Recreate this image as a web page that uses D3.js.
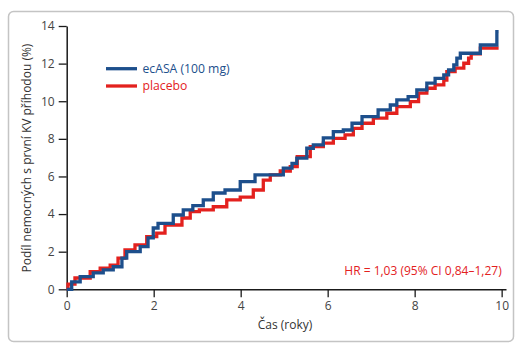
<!DOCTYPE html>
<html><head><meta charset="utf-8">
<script src="https://cdn.jsdelivr.net/npm/d3@7"></script>
<style>body{margin:0;background:#fff}svg{display:block}text{font-family:"Open Sans","Noto Sans",sans-serif}</style>
</head><body>
<script>
// Time (years) and cumulative incidence (%) step points
const ecasaTime = [0,0.115,0.31,0.61,0.84,1.07,1.27,1.38,1.69,1.87,1.99,2.10,2.45,2.68,2.90,3.14,3.37,3.64,3.99,4.33,4.98,5.18,5.29,5.52,5.67,5.90,6.13,6.36,6.56,6.79,7.16,7.44,7.59,7.85,8.05,8.28,8.47,8.67,8.78,8.90,8.97,9.05,9.51,9.89,9.93];
const ecasaPct  = [0,0.40,0.67,0.87,1.03,1.20,1.66,2.00,2.27,2.73,3.26,3.51,3.95,4.22,4.45,4.75,5.12,5.28,5.72,6.08,6.44,6.70,6.98,7.50,7.68,8.05,8.38,8.47,8.83,9.18,9.54,9.80,10.07,10.24,10.60,10.96,11.22,11.40,11.66,11.93,12.29,12.55,12.99,13.70,13.70];
const placeboTime = [0,0.03,0.19,0.54,0.77,1.00,1.18,1.34,1.57,1.84,2.07,2.26,2.65,2.84,3.05,3.37,3.68,3.99,4.29,4.52,4.68,4.91,5.14,5.30,5.60,5.90,6.13,6.40,6.59,6.79,7.05,7.36,7.59,7.90,8.09,8.28,8.47,8.67,8.74,8.93,9.13,9.24,9.30,9.51,9.93];
const placeboPct  = [0,0.28,0.60,0.94,1.13,1.29,1.66,2.09,2.36,2.80,2.99,3.42,3.79,4.13,4.22,4.39,4.75,4.90,5.28,5.81,6.08,6.29,6.52,7.05,7.59,7.77,8.03,8.21,8.56,8.83,9.10,9.36,9.71,9.98,10.43,10.69,10.87,11.13,11.57,11.76,12.02,12.29,12.52,12.82,12.82];
const xTicks = [0,2,4,6,8,10];
const yTicks = [0,2,4,6,8,10,12,14];
const seriesNames = ["ecASA (100 mg)","placebo"];
const seriesColors = ["#1d4f8c","#e3211e"];
const xTitle = "Čas (roky)";
const yTitle = "Podíl nemocných s první KV příhodou (%)";
const hrText = "HR = 1,03 (95% CI 0,84–1,27)";

const W=521,H=350;
const svg=d3.select("body").append("svg").attr("width",W).attr("height",H);
svg.append("rect").attr("x",8.5).attr("y",11.5).attr("width",505).attr("height",330).attr("rx",5)
  .attr("fill","#fff").attr("stroke","#c4c4c4").attr("stroke-width",1.5);

const x=d3.scaleLinear().domain([0,10.1]).range([66.7,506]);
const y=d3.scaleLinear().domain([0,14]).range([289.3,26]);

const ax=svg.append("g").attr("transform","translate(0,289.3)")
  .call(d3.axisBottom(x).tickValues(xTicks).tickSize(8).tickSizeOuter(0).tickPadding(4).tickFormat(d3.format("d")));
const ay=svg.append("g").attr("transform","translate(66.7,0)")
  .call(d3.axisLeft(y).tickValues(yTicks).tickSize(8).tickSizeOuter(0).tickPadding(4).tickFormat(d3.format("d")));
[ax,ay].forEach(g=>{
  g.select(".domain").attr("stroke","#1a1a1a").attr("stroke-width",1.5);
  g.selectAll(".tick line").attr("stroke","#1a1a1a").attr("stroke-width",1.3);
  g.selectAll(".tick text").attr("fill","#444").attr("font-size",12);
});

const line=d3.line().x(d=>x(d[0])).y(d=>y(d[1])).curve(d3.curveStepAfter);
const ecasa=ecasaTime.map((t,i)=>[t,ecasaPct[i]]);
const placebo=placeboTime.map((t,i)=>[t,placeboPct[i]]);
svg.append("path").datum(placebo).attr("d",line).attr("fill","none").attr("stroke",seriesColors[1]).attr("stroke-width",3.3);
svg.append("path").datum(ecasa).attr("d",line).attr("fill","none").attr("stroke",seriesColors[0]).attr("stroke-width",3.3);

// legend
seriesNames.forEach((n,i)=>{
  const ly=68.7+i*17.3;
  svg.append("line").attr("x1",106).attr("x2",137).attr("y1",ly).attr("y2",ly).attr("stroke",seriesColors[i]).attr("stroke-width",3.3);
  svg.append("text").attr("x",142.5).attr("y",ly+4.3).attr("fill",seriesColors[i]).attr("font-size",12.2).text(n);
});

svg.append("text").attr("x",501.7).attr("y",275).attr("text-anchor","end").attr("fill",seriesColors[1]).attr("font-size",12).text(hrText);
svg.append("text").attr("x",285).attr("y",329).attr("text-anchor","middle").attr("fill","#333").attr("font-size",12).text(xTitle);
svg.append("text").attr("transform","translate(31,158) rotate(-90)").attr("text-anchor","middle").attr("fill","#333").attr("font-size",12).text(yTitle);
</script>
</body></html>
